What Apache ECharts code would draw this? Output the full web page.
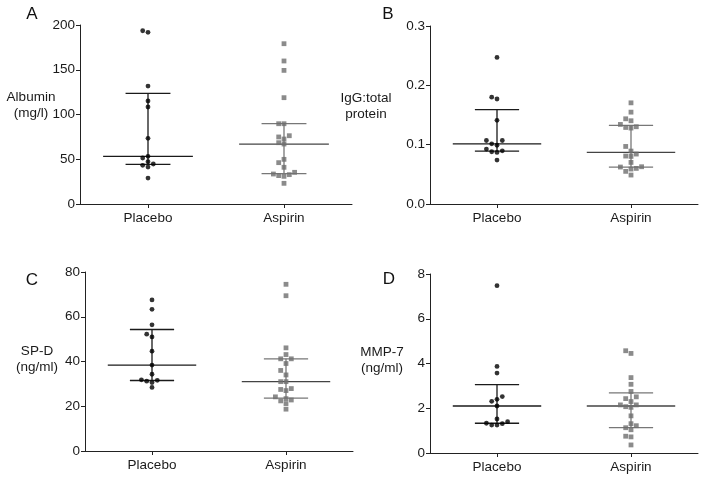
<!DOCTYPE html>
<html>
<head>
<meta charset="utf-8">
<script src="https://cdn.jsdelivr.net/npm/echarts@6/dist/echarts.min.js"></script>
<style>
html,body{margin:0;padding:0;background:#fff;}
#c{width:704px;height:479px;}
</style>
</head>
<body>
<div id="c"></div>
<script>
// ---------- data ----------
var categories = ['Placebo', 'Aspirin'];

var albuminPlacebo = [193.6, 191.8, 131.8, 115.1, 108.4, 73.4, 53.3, 51.4, 47.3, 44.7, 43.2, 41.3, 29.0];
var albuminAspirin = [179.1, 159.8, 149.3, 118.8, 89.7, 89.7, 76.3, 74.9, 72.6, 68.5, 67.0, 49.9, 46.2, 41.0, 35.4, 33.5, 32.8, 31.7, 30.9, 23.1];
var albuminStats = [[44.3, 53.3, 123.6], [33.9, 67.0, 89.7]]; // [q1, median, q3]

var iggPlacebo = [0.247, 0.180, 0.177, 0.141, 0.107, 0.107, 0.1015, 0.099, 0.0925, 0.0897, 0.0881, 0.0869, 0.074];
var iggAspirin = [0.1705, 0.1548, 0.1436, 0.1403, 0.1341, 0.1302, 0.129, 0.128, 0.097, 0.0892, 0.0842, 0.0808, 0.0802, 0.0701, 0.0628, 0.0623, 0.060, 0.0589, 0.055, 0.0488];
var iggStats = [[0.0892, 0.1015, 0.159], [0.0623, 0.087, 0.1324]];

var spdPlacebo = [67.5, 63.3, 56.4, 52.2, 51.0, 44.6, 38.4, 34.3, 31.8, 31.6, 31.2, 30.6, 28.4];
var spdAspirin = [74.5, 69.4, 46.1, 43.1, 41.2, 41.2, 39.1, 36.0, 34.0, 31.0, 31.0, 27.9, 27.5, 27.0, 24.2, 23.4, 22.8, 22.4, 21.2, 18.7];
var spdStats = [[31.5, 38.4, 54.3], [23.6, 31.0, 41.2]];

var mmpPlacebo = [7.48, 3.87, 3.57, 2.52, 2.40, 2.31, 2.10, 1.52, 1.40, 1.33, 1.31, 1.25, 1.25];
var mmpAspirin = [4.57, 4.45, 3.37, 3.07, 2.75, 2.51, 2.43, 2.30, 2.15, 2.15, 2.07, 2.04, 1.66, 1.31, 1.22, 1.13, 1.04, 0.75, 0.72, 0.36];
var mmpStats = [[1.33, 2.10, 3.06], [1.13, 2.10, 2.69]];

var yTicksA = [0, 200, 50];
var yTicksB = [0, 0.3, 0.1];
var yTicksC = [0, 80, 20];
var yTicksD = [0, 8, 2];

var panelLetters = ['A', 'B', 'C', 'D'];
var axisTitles = ['Albumin\n(mg/l)', 'IgG:total\nprotein', 'SP-D\n(ng/ml)', 'MMP-7\n(ng/ml)'];

// ---------- layout / style ----------
var FONT = '"Liberation Sans", Arial, sans-serif';
var grids = [
  {left: 80, top: 25, width: 272, height: 179},
  {left: 430, top: 26, width: 268, height: 178},
  {left: 85, top: 272, width: 268, height: 179},
  {left: 430, top: 274, width: 268, height: 179}
];
var titlePos = [[31, 105], [366, 106], [37, 359], [382, 360]];
var letterPos = [[32, 14], [388, 14], [32, 280], [389, 279]];

var panels = [
  {p: albuminPlacebo, a: albuminAspirin, s: albuminStats, t: yTicksA, dec: 0},
  {p: iggPlacebo, a: iggAspirin, s: iggStats, t: yTicksB, dec: 1},
  {p: spdPlacebo, a: spdAspirin, s: spdStats, t: yTicksC, dec: 0},
  {p: mmpPlacebo, a: mmpAspirin, s: mmpStats, t: yTicksD, dec: 0}
];

// beeswarm-style horizontal spreading (pixel offsets computed from value proximity)
function swarm(values, pxPerUnit, step, thresh) {
  var idx = values.map(function (v, i) { return i; });
  idx.sort(function (i, j) { return values[i] - values[j]; });
  var placed = [];
  var slots = new Array(values.length);
  var order = [0, -1, 1, -2, 2, -3, 3, -4, 4];
  idx.forEach(function (i) {
    var py = values[i] * pxPerUnit;
    for (var k = 0; k < order.length; k++) {
      var s = order[k];
      var ok = placed.every(function (q) { return q.slot !== s || Math.abs(q.py - py) >= thresh; });
      if (ok) { slots[i] = s; placed.push({slot: s, py: py}); break; }
    }
  });
  return values.map(function (v, i) {
    return {value: [0, v], symbolOffset: [slots[i] * step, 0]};
  });
}

var option = {
  animation: false,
  backgroundColor: '#fff',
  grid: [], xAxis: [], yAxis: [], series: [], graphic: []
};

panels.forEach(function (pn, g) {
  option.grid.push(grids[g]);
  option.xAxis.push({
    type: 'category', gridIndex: g, data: categories,
    axisLine: {show: true, lineStyle: {color: '#222', width: 1}},
    axisTick: {show: true, alignWithLabel: true, length: 4, lineStyle: {color: '#222'}},
    axisLabel: {color: '#1a1a1a', fontSize: 13.5, fontFamily: FONT, margin: 7},
    splitLine: {show: false}
  });
  option.yAxis.push({
    type: 'value', gridIndex: g, min: pn.t[0], max: pn.t[1], interval: pn.t[2],
    axisLine: {show: true, lineStyle: {color: '#222', width: 1}},
    axisTick: {show: true, length: 4, lineStyle: {color: '#222'}},
    axisLabel: {color: '#1a1a1a', fontSize: 13.5, fontFamily: FONT, margin: 5,
      formatter: (function (d) { return function (v) { return v.toFixed(d); }; })(pn.dec)},
    splitLine: {show: false}
  });
  var pxPerUnit = grids[g].height / (pn.t[1] - pn.t[0]);
  option.series.push({
    type: 'custom', xAxisIndex: g, yAxisIndex: g, z: 2,
    data: [[0].concat(pn.s[0]), [1].concat(pn.s[1])],
    encode: {x: 0, y: [1, 2, 3]},
    renderItem: function (params, api) {
      var ci = api.value(0);
      var q1 = api.coord([ci, api.value(1)]);
      var md = api.coord([ci, api.value(2)]);
      var q3 = api.coord([ci, api.value(3)]);
      var band = api.size([1, 0])[0];
      var hw = band * 0.33, qw = band * 0.165;
      var col = ci === 0 ? '#1a1a1a' : '#444';
      var qcol = ci === 0 ? '#1a1a1a' : '#777';
      var st = {stroke: col, lineWidth: 1.3};
      var qs = {stroke: qcol, lineWidth: 1.3};
      return {type: 'group', children: [
        {type: 'line', shape: {x1: md[0] - hw, y1: md[1], x2: md[0] + hw, y2: md[1]}, style: st},
        {type: 'line', shape: {x1: q1[0] - qw, y1: q1[1], x2: q1[0] + qw, y2: q1[1]}, style: qs},
        {type: 'line', shape: {x1: q3[0] - qw, y1: q3[1], x2: q3[0] + qw, y2: q3[1]}, style: qs},
        {type: 'line', shape: {x1: q1[0], y1: q1[1], x2: q3[0], y2: q3[1]}, style: qs}
      ]};
    }
  });
  var pData = swarm(pn.p, pxPerUnit, 5.3, 4.8);
  var aData = swarm(pn.a, pxPerUnit, 5.3, 4.8).map(function (d) { d.value[0] = 1; return d; });
  option.series.push({
    type: 'scatter', xAxisIndex: g, yAxisIndex: g, z: 5,
    symbol: 'circle', symbolSize: 4.8,
    itemStyle: {color: '#000'}, data: pData
  });
  option.series.push({
    type: 'scatter', xAxisIndex: g, yAxisIndex: g, z: 5,
    symbol: 'rect', symbolSize: 4.8,
    itemStyle: {color: '#6e6e6e'}, data: aData
  });
  option.graphic.push({
    type: 'text', x: titlePos[g][0], y: titlePos[g][1],
    style: {text: axisTitles[g], fill: '#1a1a1a', font: '13.5px ' + FONT,
      align: 'center', verticalAlign: 'middle', lineHeight: 16}
  });
  option.graphic.push({
    type: 'text', x: letterPos[g][0], y: letterPos[g][1],
    style: {text: panelLetters[g], fill: '#111', font: '17px ' + FONT,
      align: 'center', verticalAlign: 'middle'}
  });
});

var chart = echarts.init(document.getElementById('c'), null, {renderer: 'canvas'});
chart.setOption(option);
</script>
</body>
</html>
